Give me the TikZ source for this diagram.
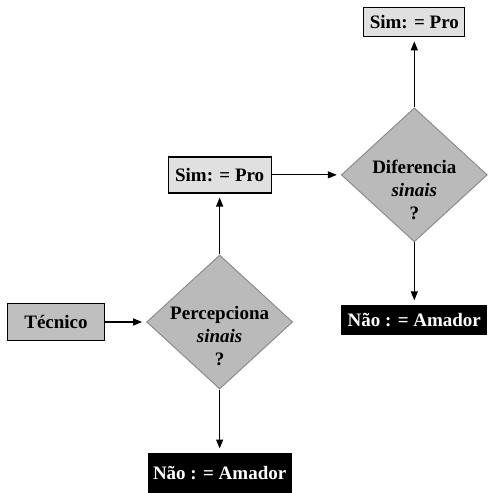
\documentclass[tikz,border=0pt]{standalone}
\usepackage{fontspec}
\setmainfont{Liberation Serif}
\usepackage{tikz}
\usetikzlibrary{positioning}
\usetikzlibrary{arrows.meta}
\usetikzlibrary{shapes.geometric}

\begin{document}
\begin{tikzpicture}[
    font=\fontsize{19}{23}\selectfont\bfseries,
    box/.style={draw, line width=1.3pt, inner sep=0pt, minimum height=37pt},
    decision/.style={draw=black!45, fill=black!27, line width=1pt, shape=diamond, inner sep=0pt, minimum width=146pt, minimum height=134pt},
    nao/.style={fill=black, text=white, inner sep=0pt, minimum width=144pt},
    seta/.style={-{Triangle[length=9pt,width=7pt]}, line width=1.2pt, shorten >=4pt}]
            \useasboundingbox (0,0) rectangle (490pt,-493pt);

            \node[box, fill=black!25, minimum width=97pt] (T) at (56pt,-322pt) {T\'ecnico};
            \node[decision, right = 41pt of T] (P) {};
            \node[align=center, yshift=-14pt] (Ptxt) at (P) {Percepciona\\\textit{sinais}\\?};
            \node[box, fill=black!12, minimum width=103pt, minimum height=36pt, above = 61pt of P] (S1) {Sim: = Pro};
            \node[nao, minimum height=40pt, below = 63pt of P] (N1) {N\~ao : = Amador};

            \node[decision, right = 69pt of S1] (D) {};
            \node[align=center, yshift=-15pt] (Dtxt) at (D) {Diferencia\\\textit{sinais}\\?};
            \node[box, fill=black!12, minimum width=101pt, minimum height=29pt, above = 70pt of D] (S2) {Sim: = Pro};
            \node[nao, minimum height=30pt, minimum width=146pt, below = 62pt of D] (N2) {N\~ao : = Amador};

            \draw[seta] (T) -- (P);
            \draw[seta] (P) -- (S1);
            \draw[seta] (P) -- (N1);
            \draw[seta] (S1) -- (D);
            \draw[seta] (D) -- (S2);
            \draw[seta] (D) -- (N2);
        \end{tikzpicture}
\end{document}
